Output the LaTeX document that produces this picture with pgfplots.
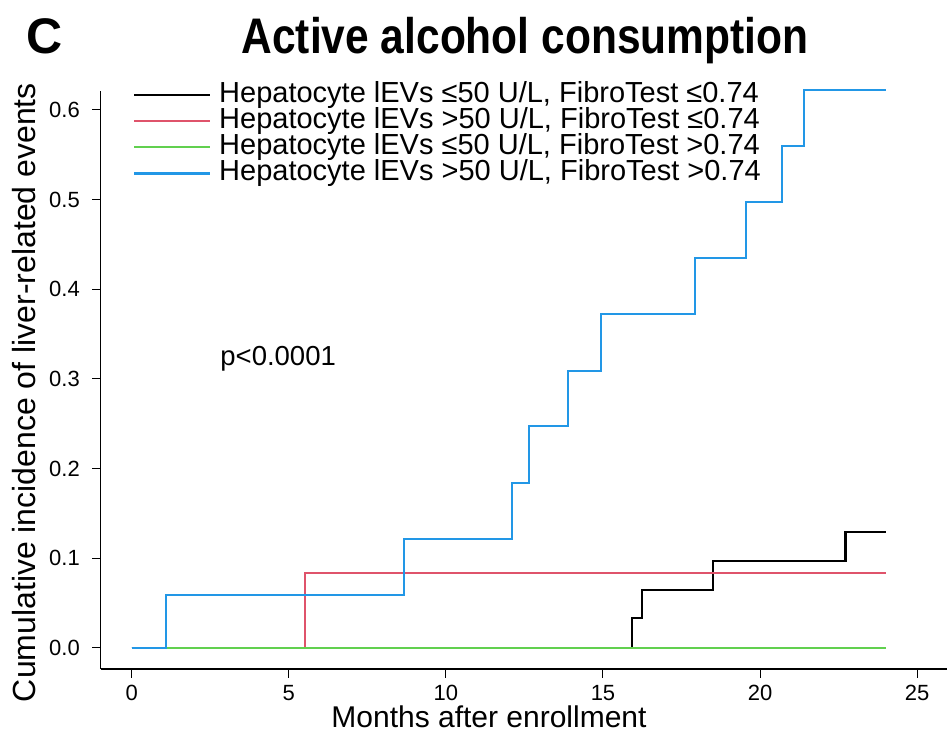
\documentclass[border=0pt]{standalone}
\usepackage{pgfplots}
\pgfplotsset{compat=1.18}
\usepackage{fontspec}
\setmainfont{Liberation Sans}
\newfontfamily\narrowfont{Liberation Sans}[FakeStretch=0.85]
\definecolor{kmred}{HTML}{DF536B}
\definecolor{kmgreen}{HTML}{61D04F}
\definecolor{kmblue}{HTML}{2297E6}
\begin{document}
\begin{tikzpicture}
\path[use as bounding box] (0,0) rectangle (473.5pt,-367pt);
\node[anchor=base west, inner sep=0pt, font=\fontsize{25pt}{25pt}\selectfont\bfseries] at (13pt,-26.5pt) {C};
\node[anchor=base, inner sep=0pt, font=\fontsize{25pt}{25pt}\selectfont\narrowfont\bfseries] at (262.5pt,-26.5pt) {Active alcohol consumption};
\begin{axis}[
    at={(50.35pt,-334.5pt)}, anchor=south west,
    scale only axis, width=423.15pt, height=289.15pt,
    xmin=-0.987, xmax=25.95, ymin=-0.0236, ymax=0.6214,
    clip=false,
    axis x line=bottom, axis y line=left,
    axis line style={-, line width=0.6pt},
    tick align=outside,
    major tick length=4.25pt,
    tick style={black, line width=0.5pt},
    xtick={0,5,10,15,20,25},
    ytick={0,0.1,0.2,0.3,0.4,0.5,0.6},
    /pgf/number format/assume math mode=true,
    yticklabel style={/pgf/number format/fixed, /pgf/number format/fixed zerofill,
      /pgf/number format/precision=1, xshift=-6pt},
    tick label style={font=\fontsize{11pt}{11pt}\selectfont, inner sep=0pt},
    xticklabel style={yshift=-3.5pt},
    xlabel={Months after enrollment},
    xlabel style={at={(axis description cs:0.4588,-0.1003)}, anchor=base, inner sep=0pt, font=\fontsize{15pt}{15pt}\selectfont},
    ylabel={Cumulative incidence of liver-related events},
    ylabel style={at={(axis description cs:-0.0765,0.478)}, anchor=base, inner sep=0pt, font=\fontsize{16pt}{16pt}\selectfont},
    legend style={at={(axis description cs:0.0382,1.0145)}, anchor=north west, draw=none, fill=none,
      inner sep=0pt, outer sep=0pt, row sep=0.6pt, column sep=4pt,
      nodes={inner sep=0pt, text height=10pt, text depth=2.5pt, font=\fontsize{14.5pt}{14.5pt}\selectfont}},
    legend cell align=left,
    legend image code/.code={\draw[#1] (0pt,0pt) -- (38pt,0pt);},
]
\addplot[const plot, black, line width=1.1pt] coordinates {
  (0,0) (15.93,0.0329) (16.23,0.0648) (18.50,0.0968) (22.72,0.1288) (24.0,0.1288)};
\addlegendentry{Hepatocyte lEVs ≤50 U/L, FibroTest ≤0.74}
\addplot[const plot, kmred, line width=1.1pt] coordinates {
  (0,0) (5.52,0.0838) (24.0,0.0838)};
\addlegendentry{Hepatocyte lEVs >50 U/L, FibroTest ≤0.74}
\addplot[const plot, kmgreen, line width=1.1pt] coordinates {
  (0,0) (24.0,0)};
\addlegendentry{Hepatocyte lEVs ≤50 U/L, FibroTest >0.74}
\addplot[const plot, kmblue, line width=1.1pt] coordinates {
  (0,0) (1.09,0.0592) (8.67,0.1217) (12.11,0.1842) (12.64,0.2471) (13.88,0.3091)
  (14.93,0.3720) (17.94,0.4348) (19.55,0.4973) (20.71,0.5597) (21.39,0.6222) (24.0,0.6222)};
\addlegendentry{Hepatocyte lEVs >50 U/L, FibroTest >0.74}
\end{axis}
\node[anchor=base west, inner sep=0pt, font=\fontsize{13.75pt}{13.75pt}\selectfont] at (110pt,-182.5pt) {p<0.0001};
\end{tikzpicture}
\end{document}
